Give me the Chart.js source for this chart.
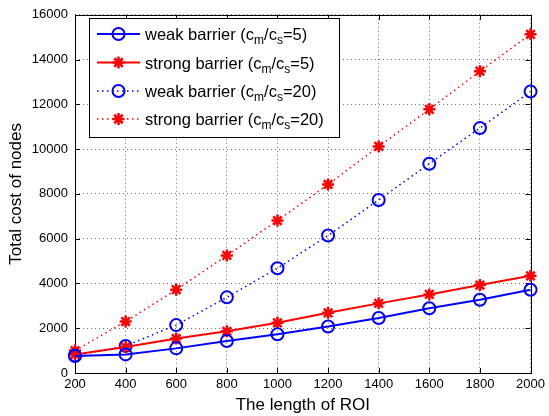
<!DOCTYPE html>
<html>
<head>
<meta charset="utf-8">
<script src="https://cdn.jsdelivr.net/npm/chart.js@4.4.1/dist/chart.umd.min.js"></script>
<style>
  html, body { margin: 0; padding: 0; background: #fff; }
  #wrap { width: 549px; height: 416px; }
</style>
</head>
<body>
<div id="wrap"><canvas id="c" width="549" height="416"></canvas></div>
<script>
// ROI lengths on the x axis
const lengths = [200, 400, 600, 800, 1000, 1200, 1400, 1600, 1800, 2000];
// Total cost of nodes for each barrier type and cost ratio
const weak5    = [760, 830, 1100, 1430, 1730, 2080, 2460, 2890, 3270, 3720];
const strong5  = [830, 1160, 1540, 1860, 2240, 2690, 3110, 3510, 3930, 4340];
const weak20   = [780, 1210, 2140, 3380, 4680, 6140, 7730, 9350, 10940, 12570];
const strong20 = [1000, 2300, 3720, 5250, 6810, 8420, 10120, 11780, 13480, 15130];
// Axis ticks
const xTicks = [200, 400, 600, 800, 1000, 1200, 1400, 1600, 1800, 2000];
const yTicks = [0, 2000, 4000, 6000, 8000, 10000, 12000, 14000, 16000];
// Axis titles
const xTitle = 'The length of ROI';
const yTitle = 'Total cost of nodes';

const FONT = '"Liberation Sans", Arial, sans-serif';
const BLUE = '#0000ff';
const RED = '#ff0000';

const pts = arr => lengths.map((x, i) => ({ x, y: arr[i] }));

const series = [
  { data: weak5,    color: BLUE, style: 'circle', dotted: false, ratio: '5' , kind: 'weak' },
  { data: strong5,  color: RED,  style: 'star',   dotted: false, ratio: '5' , kind: 'strong' },
  { data: weak20,   color: BLUE, style: 'circle', dotted: true,  ratio: '20', kind: 'weak' },
  { data: strong20, color: RED,  style: 'star',   dotted: true,  ratio: '20', kind: 'strong' }
];

const datasets = series.map(s => ({
  data: pts(s.data),
  borderColor: s.color,
  backgroundColor: 'rgba(0,0,0,0)',
  borderWidth: s.dotted ? 1.5 : 2,
  borderDash: s.dotted ? [1.5, 3.5] : [],
  pointStyle: s.style,
  pointRadius: 6,
  pointBorderWidth: s.style === 'star' ? 2.5 : 2,
  pointBorderColor: s.color,
  pointBackgroundColor: 'rgba(0,0,0,0)',
  tension: 0,
  clip: false
}));

// Axes box with inward tick marks on all four sides, plus axis titles
const boxPlugin = {
  id: 'box',
  beforeDatasetsDraw(chart) {
    const { ctx, chartArea: a, scales } = chart;
    ctx.save();
    ctx.strokeStyle = '#000';
    ctx.lineWidth = 1;
    ctx.beginPath();
    const tl = 5;
    xTicks.forEach(v => {
      const x = Math.round(scales.x.getPixelForValue(v)) + 0.5;
      ctx.moveTo(x, a.bottom); ctx.lineTo(x, a.bottom - tl);
      ctx.moveTo(x, a.top); ctx.lineTo(x, a.top + tl);
    });
    yTicks.forEach(v => {
      const y = Math.round(scales.y.getPixelForValue(v)) + 0.5;
      ctx.moveTo(a.left, y); ctx.lineTo(a.left + tl, y);
      ctx.moveTo(a.right, y); ctx.lineTo(a.right - tl, y);
    });
    ctx.stroke();
    ctx.strokeRect(Math.round(a.left) + 0.5, Math.round(a.top) + 0.5,
                   Math.round(a.right - a.left), Math.round(a.bottom - a.top));

    ctx.fillStyle = '#000';
    ctx.font = '17px ' + FONT;
    ctx.textAlign = 'center';
    ctx.textBaseline = 'alphabetic';
    ctx.fillText(xTitle, (a.left + a.right) / 2, 410);
    ctx.translate(21, (a.top + a.bottom) / 2);
    ctx.rotate(-Math.PI / 2);
    ctx.fillText(yTitle, 0, 0);
    ctx.restore();
  }
};

// Legend with subscripted cost ratio labels
const legendPlugin = {
  id: 'subLegend',
  afterDraw(chart) {
    const { ctx } = chart;
    const bx = 89.5, by = 18.5, bw = 250, bh = 119;
    ctx.save();
    ctx.fillStyle = '#fff';
    ctx.fillRect(bx, by, bw, bh);
    ctx.strokeStyle = '#000';
    ctx.lineWidth = 1;
    ctx.strokeRect(bx, by, bw, bh);
    const rowY = [34, 62.5, 91, 119];
    series.forEach((s, i) => {
      const y = rowY[i];
      ctx.save();
      ctx.strokeStyle = s.color;
      ctx.fillStyle = 'rgba(0,0,0,0)';
      ctx.lineWidth = s.dotted ? 1.5 : 2;
      ctx.setLineDash(s.dotted ? [1.5, 3.5] : []);
      ctx.beginPath();
      ctx.moveTo(97, y); ctx.lineTo(140, y);
      ctx.stroke();
      ctx.setLineDash([]);
      ctx.lineWidth = s.style === 'star' ? 2.5 : 2;
      Chart.helpers.drawPoint(ctx, { pointStyle: s.style, radius: 6, borderWidth: ctx.lineWidth }, 118.5, y);
      ctx.restore();

      const parts = [
        [s.kind + ' barrier (c', false],
        ['m', true],
        ['/c', false],
        ['s', true],
        ['=' + s.ratio + ')', false]
      ];
      let x = 145;
      ctx.fillStyle = '#000';
      ctx.textBaseline = 'alphabetic';
      ctx.textAlign = 'left';
      parts.forEach(([t, sub]) => {
        ctx.font = (sub ? '12px ' : '16.5px ') + FONT;
        ctx.fillText(t, x, y + (sub ? 10 : 6));
        x += ctx.measureText(t).width;
      });
    });
    ctx.restore();
  }
};

new Chart(document.getElementById('c'), {
  type: 'line',
  data: { datasets },
  options: {
    responsive: false,
    animation: false,
    events: [],
    layout: { padding: { top: 11, right: 14, left: 0, bottom: 0 } },
    plugins: { legend: { display: false }, tooltip: { enabled: false } },
    scales: {
      x: {
        type: 'linear',
        min: 200, max: 2000,
        afterBuildTicks: sc => { sc.ticks = xTicks.map(v => ({ value: v })); },
        afterFit: sc => { sc.height = 43; },
        ticks: { color: '#000', font: { family: FONT, size: 13 }, padding: 4, maxRotation: 0, autoSkip: false,
                 callback: v => String(v) },
        grid: { color: 'rgba(0,0,0,0.55)', lineWidth: 1, drawTicks: false },
        border: { display: false, dash: [1, 3] }
      },
      y: {
        min: 0, max: 16000,
        afterBuildTicks: sc => { sc.ticks = yTicks.map(v => ({ value: v })); },
        afterFit: sc => { sc.width = 75; },
        ticks: { color: '#000', font: { family: FONT, size: 13 }, padding: 7,
                 callback: v => String(v) },
        grid: { color: 'rgba(0,0,0,0.55)', lineWidth: 1, drawTicks: false },
        border: { display: false, dash: [1, 3] }
      }
    }
  },
  plugins: [boxPlugin, legendPlugin]
});
</script>
</body>
</html>
